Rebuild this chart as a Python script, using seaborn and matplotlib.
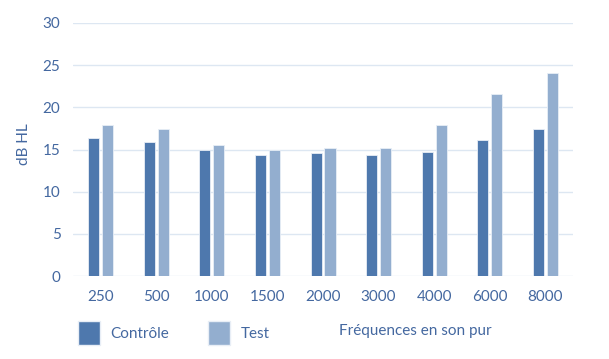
import matplotlib
matplotlib.use("Agg")
import matplotlib.pyplot as plt
import seaborn as sns
import pandas as pd
from matplotlib.patches import Patch

frequencies = ["250", "500", "1000", "1500", "2000", "3000", "4000", "6000", "8000"]
controle = [16.4, 15.9, 15.0, 14.4, 14.6, 14.4, 14.7, 16.1, 17.4]
test = [17.9, 17.4, 15.5, 15.0, 15.2, 15.2, 17.9, 21.6, 24.1]
series_names = ["Contrôle", "Test"]
yticks = [0, 5, 10, 15, 20, 25, 30]

df = pd.DataFrame({
    "freq": frequencies * 2,
    "val": controle + test,
    "serie": [series_names[0]] * len(frequencies) + [series_names[1]] * len(frequencies),
})

sns.set_theme(style="white")
plt.rcParams["font.family"] = ["Lato", "DejaVu Sans"]

text_col = "#4468A0"
colors = ["#4E78AD", "#93AECF"]
grid_col = "#DDE7F2"
fs = 11

fig = plt.figure(figsize=(6.09, 3.59), dpi=100)
ax = fig.add_axes([73 / 609, 1 - 276 / 359, 500 / 609, 253 / 359])

sns.barplot(data=df, x="freq", y="val", hue="serie", order=frequencies,
            hue_order=series_names, palette=colors, width=0.5, gap=0.2,
            edgecolor="#E8EEF6", linewidth=0.6, saturation=1, ax=ax,
            legend=False, zorder=3)

ax.set_ylim(0, 30)
ax.set_yticks(yticks)
ax.set_xlim(-0.5, len(frequencies) - 0.5)
ax.grid(axis="y", color=grid_col, linewidth=1, zorder=0)
ax.set_axisbelow(True)
for s in ax.spines.values():
    s.set_visible(False)
ax.tick_params(axis="both", length=0, labelsize=fs, labelcolor=text_col)
ax.tick_params(axis="y", pad=9)
ax.tick_params(axis="x", pad=10)

ax.set_ylabel("dB HL", color=text_col, fontsize=fs)
ax.yaxis.set_label_coords(-0.083, 0.52)
ax.set_xlabel("Fréquences en son pur", color=text_col, fontsize=fs)
ax.xaxis.set_label_coords(0.684, -0.19)

handles = [Patch(facecolor=colors[0], edgecolor="#E8EEF6"),
           Patch(facecolor=colors[1], edgecolor="#E8EEF6")]
leg = fig.legend(handles, series_names, loc="center left",
                 bbox_to_anchor=(64 / 609, 1 - 333 / 359), ncol=2, frameon=False,
                 fontsize=fs, handlelength=1.45, handleheight=2.0,
                 handletextpad=0.7, columnspacing=2.5)
for t in leg.get_texts():
    t.set_color(text_col)

fig.savefig("out.png", dpi=100)
